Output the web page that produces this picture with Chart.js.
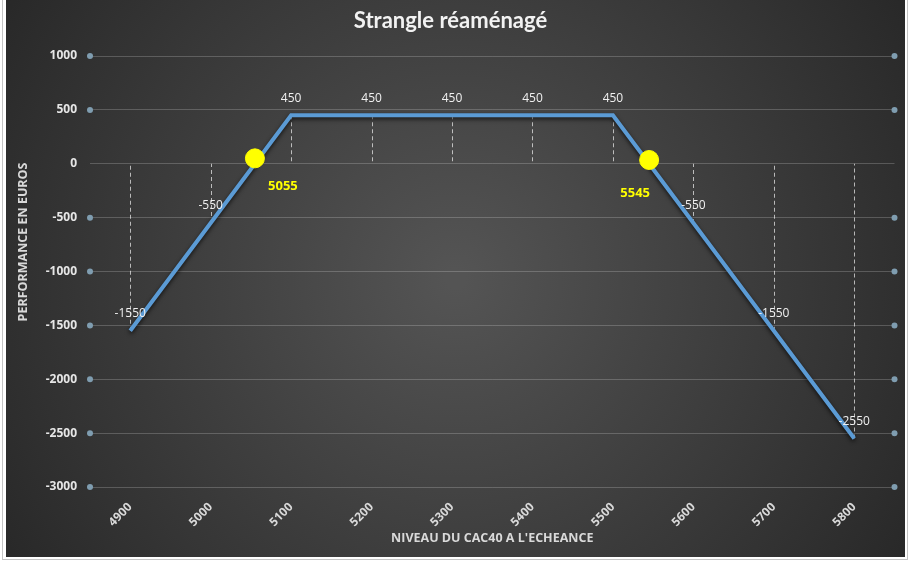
<!DOCTYPE html>
<html>
<head>
<meta charset="utf-8">
<script src="https://cdn.jsdelivr.net/npm/chart.js@4.4.0/dist/chart.umd.min.js"></script>
<style>
  html, body { margin: 0; padding: 0; background: #ffffff; }
  #frame { position: absolute; left: 2px; top: -2px; width: 906px; height: 562px; border: 1px solid #c4c4c4; box-sizing: border-box; }
  #wrap { position: absolute; left: 6px; top: 0px; width: 899px; height: 557px; }
</style>
</head>
<body>
<div id="frame"></div>
<div id="wrap"><canvas id="chart" width="899" height="557"></canvas></div>
<script>
// CAC40 level at expiry and resulting P&L
const cacLevels = [4900, 5000, 5100, 5200, 5300, 5400, 5500, 5600, 5700, 5800]
const performance = [-1550, -550, 450, 450, 450, 450, 450, -550, -1550, -2550]
// break-even markers
const breakEvenLevels = [5055, 5545]
const breakEvenValues = [50, 35]
const breakEvenLabels = ['5055', '5545']
// axis ticks
const yTicks = [1000, 500, 0, -500, -1000, -1500, -2000, -2500, -3000]
const edgeMarkerY = [1000, 500, -500, -1000, -1500, -2000, -2500, -3000]

const xMin = 4850
const xMax = 5850

const mainData = cacLevels.map((x, i) => ({ x: x, y: performance[i] }))
const beData = breakEvenLevels.map((x, i) => ({ x: x, y: breakEvenValues[i] }))
const edgeData = []
edgeMarkerY.forEach(y => {
  edgeData.push({ x: xMin, y: y })
  edgeData.push({ x: xMax, y: y })
})

const bgPlugin = {
  id: 'bg',
  beforeDraw(chart) {
    const ctx = chart.ctx
    const w = chart.width, h = chart.height
    const g = ctx.createRadialGradient(w * 0.5, h * 0.5, 10, w * 0.5, h * 0.5, w * 0.62)
    g.addColorStop(0, '#545454')
    g.addColorStop(1, '#262626')
    ctx.save()
    ctx.fillStyle = g
    ctx.fillRect(0, 0, w, h)
    ctx.restore()
  }
}

// dashed drop lines from each point to the zero line
const dropLines = {
  id: 'dropLines',
  beforeDatasetsDraw(chart) {
    const ctx = chart.ctx
    const meta = chart.getDatasetMeta(0)
    const y0 = chart.scales.y.getPixelForValue(0)
    ctx.save()
    ctx.strokeStyle = 'rgba(255,255,255,0.65)'
    ctx.lineWidth = 1
    ctx.setLineDash([4, 3])
    meta.data.forEach(pt => {
      const x = Math.round(pt.x) + 0.5
      ctx.beginPath()
      ctx.moveTo(x, pt.y)
      ctx.lineTo(x, y0)
      ctx.stroke()
    })
    ctx.restore()
  },
  beforeDatasetDraw(chart, args) {
    if (args.index === 0) {
      const ctx = chart.ctx
      ctx.save()
      ctx.shadowColor = 'rgba(0,0,0,0.7)'
      ctx.shadowBlur = 4
      ctx.shadowOffsetY = 2
    }
  },
  afterDatasetDraw(chart, args) {
    if (args.index === 0) chart.ctx.restore()
  }
}

const valueLabels = {
  id: 'valueLabels',
  afterDatasetsDraw(chart) {
    const ctx = chart.ctx
    ctx.save()
    ctx.textAlign = 'center'
    ctx.textBaseline = 'middle'
    ctx.font = '12px "Open Sans", sans-serif'
    ctx.fillStyle = '#f0f0f0'
    chart.getDatasetMeta(0).data.forEach((pt, i) => {
      ctx.fillText(String(performance[i]), pt.x, pt.y - 17)
    })
    const offs = [[28, 28], [-14, 33]]
    ctx.font = 'bold 13px "Open Sans", sans-serif'
    ctx.fillStyle = '#ffff00'
    chart.getDatasetMeta(1).data.forEach((pt, i) => {
      ctx.fillText(breakEvenLabels[i], pt.x + offs[i][0], pt.y + offs[i][1])
    })
    // y axis title, sits a bit above the axis middle
    ctx.translate(17, 242)
    ctx.rotate(-Math.PI / 2)
    ctx.font = 'bold 12.5px "Open Sans", sans-serif'
    ctx.fillStyle = '#d9d9d9'
    ctx.fillText('PERFORMANCE EN EUROS', 0, 0)
    ctx.restore()
  }
}

new Chart(document.getElementById('chart'), {
  type: 'line',
  data: {
    datasets: [
      {
        data: mainData,
        borderColor: '#5b9bd5',
        borderWidth: 4,
        pointRadius: 0,
        tension: 0,
        order: 2
      },
      {
        type: 'scatter',
        data: beData,
        backgroundColor: '#ffff00',
        borderColor: '#ffff00',
        pointRadius: 9.5,
        clip: false,
        order: 1
      },
      {
        type: 'scatter',
        data: edgeData,
        backgroundColor: '#7f9db0',
        borderWidth: 0,
        pointRadius: 3,
        clip: false,
        order: 3
      }
    ]
  },
  plugins: [bgPlugin, dropLines, valueLabels],
  options: {
    responsive: false,
    animation: false,
    layout: { padding: { left: 0, right: 10, top: 0, bottom: 0 } },
    plugins: {
      legend: { display: false },
      tooltip: { enabled: false },
      title: {
        display: true,
        text: 'Strangle réaménagé',
        color: '#f2f2f2',
        font: { family: 'Lato', size: 22, weight: 'bold', lineHeight: 1.2 },
        padding: { top: 8, bottom: 21.6 }
      }
    },
    scales: {
      x: {
        type: 'linear',
        min: xMin,
        max: xMax,
        afterBuildTicks: s => { s.ticks = cacLevels.map(v => ({ value: v })) },
        afterFit: s => { s.height = 70 },
        grid: { display: false },
        border: { display: false },
        ticks: {
          color: '#d9d9d9',
          font: { family: '"Open Sans"', size: 12, weight: 'bold' },
          minRotation: 45,
          maxRotation: 45,
          padding: 5,
          callback: v => String(v)
        },
        title: {
          display: true,
          text: "NIVEAU DU CAC40 A L'ECHEANCE",
          color: '#d9d9d9',
          font: { family: '"Open Sans"', size: 12.5, weight: 'bold' },
          padding: { top: 0, bottom: 11 }
        }
      },
      y: {
        min: -3000,
        max: 1000,
        afterBuildTicks: s => { s.ticks = yTicks.map(v => ({ value: v })) },
        afterFit: s => { s.width = 84 },
        grid: { color: 'rgba(255,255,255,0.2)', drawTicks: false, lineWidth: 1 },
        border: { display: false },
        ticks: {
          color: '#e6e6e6',
          font: { family: '"Open Sans"', size: 12, weight: 'bold' },
          padding: 13,
          callback: v => String(v)
        }
      }
    }
  }
})
</script>
</body>
</html>
